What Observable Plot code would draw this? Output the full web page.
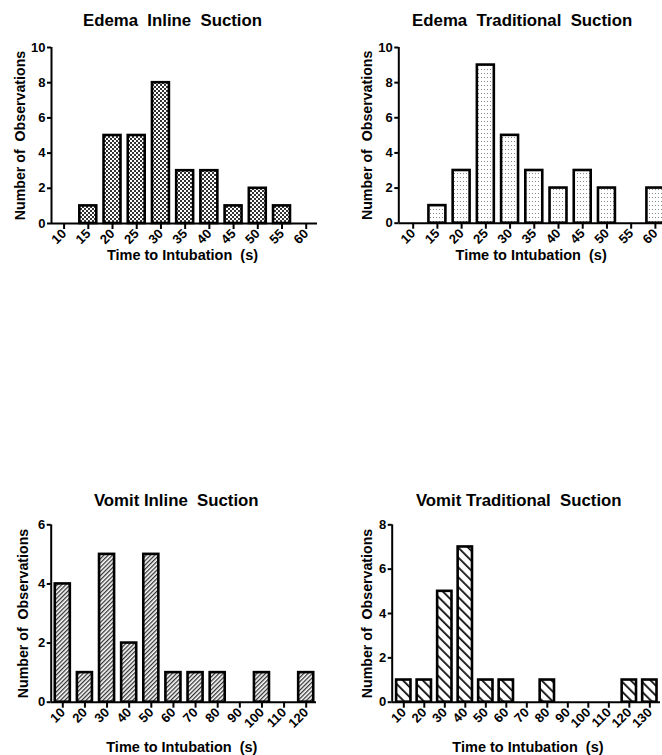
<!DOCTYPE html>
<html>
<head>
<meta charset="utf-8">
<script src="https://cdn.jsdelivr.net/npm/d3@7"></script>
<script src="https://cdn.jsdelivr.net/npm/@observablehq/plot@0.6"></script>
<style>
  html, body { margin: 0; padding: 0; background: #fff; }
  body { width: 662px; height: 755px; overflow: hidden; position: relative; }
  .panel { position: absolute; width: 345px; }
  .panel svg { max-width: none !important; }
</style>
</head>
<body>
<svg width="0" height="0" style="position:absolute">
  <defs>
    <pattern id="pCheck" width="4" height="4" patternUnits="userSpaceOnUse">
      <rect width="4" height="4" fill="#fff"/>
      <rect width="2" height="2" fill="#333"/>
      <rect x="2" y="2" width="2" height="2" fill="#333"/>
    </pattern>
    <pattern id="pDots" width="3" height="4" patternUnits="userSpaceOnUse">
      <rect width="3" height="4" fill="#fff"/>
      <rect x="1" y="1" width="1" height="1" fill="#8a8a8a"/>
    </pattern>
    <pattern id="pFwd" width="3" height="3" patternUnits="userSpaceOnUse" patternTransform="rotate(45)">
      <rect width="3" height="3" fill="#fff"/>
      <rect width="1.3" height="3" fill="#333"/>
    </pattern>
    <pattern id="pBack" width="7" height="7" patternUnits="userSpaceOnUse" patternTransform="rotate(-45)">
      <rect width="7" height="7" fill="#fff"/>
      <rect width="1.8" height="7" fill="#111"/>
    </pattern>
  </defs>
</svg>
<div id="p1" class="panel" style="left:0px;top:0px"></div>
<div id="p2" class="panel" style="left:330px;top:0px"></div>
<div id="p3" class="panel" style="left:0px;top:480px"></div>
<div id="p4" class="panel" style="left:330px;top:480px"></div>
<script>
// ---- data ----
const edemaTimes = [10, 15, 20, 25, 30, 35, 40, 45, 50, 55, 60];
const edemaInline = [0, 1, 5, 5, 8, 3, 3, 1, 2, 1, 0];
const edemaTraditional = [0, 1, 3, 9, 5, 3, 2, 3, 2, 0, 2];
const vomitInlineTimes = [10, 20, 30, 40, 50, 60, 70, 80, 90, 100, 110, 120];
const vomitInline = [4, 1, 5, 2, 5, 1, 1, 1, 0, 1, 0, 1];
const vomitTraditionalTimes = [10, 20, 30, 40, 50, 60, 70, 80, 90, 100, 110, 120, 130];
const vomitTraditional = [1, 1, 5, 7, 1, 1, 0, 1, 0, 0, 0, 1, 1];
const edemaYTicks = [0, 2, 4, 6, 8, 10];
const vomitInlineYTicks = [0, 2, 4, 6];
const vomitTraditionalYTicks = [0, 2, 4, 6, 8];
const titles = ["Edema  Inline  Suction", "Edema  Traditional  Suction", "Vomit Inline  Suction", "Vomit Traditional  Suction"];
const xLabel = "Time to Intubation  (s)";
const yLabel = "Number of  Observations";

const FONT = "'Liberation Sans', Arial, Helvetica, sans-serif";

function panel(cfg) {
  const rows = cfg.times.map((t, i) => ({t, n: cfg.counts[i]})).filter(d => d.n > 0);
  const ymax = cfg.yticks[cfg.yticks.length - 1];
  const chart = Plot.plot({
    width: cfg.W, height: cfg.H,
    marginTop: cfg.mt, marginBottom: cfg.mb, marginLeft: cfg.ml, marginRight: cfg.mr,
    style: {fontFamily: FONT, fontWeight: "bold", fontSize: "13px", color: "#000", background: "transparent", overflow: "visible", maxWidth: "none"},
    x: {domain: cfg.xdom},
    y: {domain: [0, ymax]},
    marks: [
      Plot.rectY(rows, {x1: d => d.t - cfg.half, x2: d => d.t + cfg.half, y1: 0, y2: "n",
        fill: cfg.fill, stroke: "#000", strokeWidth: 2.6}),
      Plot.ruleY([0], {stroke: "#000", strokeWidth: 2}),
      Plot.ruleX([cfg.xdom[0]], {y1: 0, y2: ymax, stroke: "#000", strokeWidth: 2}),
      Plot.axisY({ticks: cfg.yticks, tickFormat: d => String(d), tickSize: 4, tickPadding: 2, strokeWidth: 2, label: null, fontSize: 13}),
      Plot.axisX({ticks: cfg.times, tickFormat: d => String(d), tickRotate: -45, tickSize: 6, tickPadding: 2,
        strokeWidth: 2, label: null, fontSize: 13}),
      Plot.text([cfg.title], {frameAnchor: "top", textAnchor: "middle", lineAnchor: "middle", dx: cfg.tdx, dy: cfg.tdy, fontSize: 16.8, fontWeight: "bold"}),
      Plot.text([xLabel], {frameAnchor: "bottom", textAnchor: "middle", lineAnchor: "middle", dx: cfg.xldx, dy: cfg.xldy, fontSize: 14.5, fontWeight: "bold"}),
      Plot.text([yLabel], {frameAnchor: "left", textAnchor: "middle", lineAnchor: "middle", dx: cfg.yldx, rotate: -90, fontSize: 14.2, fontWeight: "bold"})
    ]
  });
  document.getElementById(cfg.id).appendChild(chart);
}

panel({id: "p1", W: 330, H: 280, mt: 47, mb: 57, ml: 51, mr: 13, xdom: [7.4, 62.33], half: 1.75,
  times: edemaTimes, counts: edemaInline, yticks: edemaYTicks, fill: "url(#pCheck)", title: titles[0],
  tdx: -12, tdy: -26.5, xldx: -2, xldy: 32, yldx: -31});
panel({id: "p2", W: 340, H: 280, mt: 47, mb: 57.3, ml: 68.3, mr: 3, xdom: [7.03, 62.5], half: 1.75,
  times: edemaTimes, counts: edemaTraditional, yticks: edemaYTicks, fill: "url(#pDots)", title: titles[1],
  tdx: -11, tdy: -26.5, xldx: -2, xldy: 32, yldx: -31.6});
panel({id: "p3", W: 330, H: 275, mt: 44.3, mb: 53.3, ml: 50.7, mr: 14, xdom: [4.76, 124.65], half: 3.4,
  times: vomitInlineTimes, counts: vomitInline, yticks: vomitInlineYTicks, fill: "url(#pFwd)", title: titles[2],
  tdx: -7.6, tdy: -24.3, xldx: -2, xldy: 45, yldx: -28});
panel({id: "p4", W: 332, H: 275, mt: 44.3, mb: 53.3, ml: 61.7, mr: 2, xdom: [4.34, 135.2], half: 3.5,
  times: vomitTraditionalTimes, counts: vomitTraditional, yticks: vomitTraditionalYTicks, fill: "url(#pBack)", title: titles[3],
  tdx: -7.6, tdy: -24.3, xldx: 1.6, xldy: 45, yldx: -24.5});
</script>
</body>
</html>
